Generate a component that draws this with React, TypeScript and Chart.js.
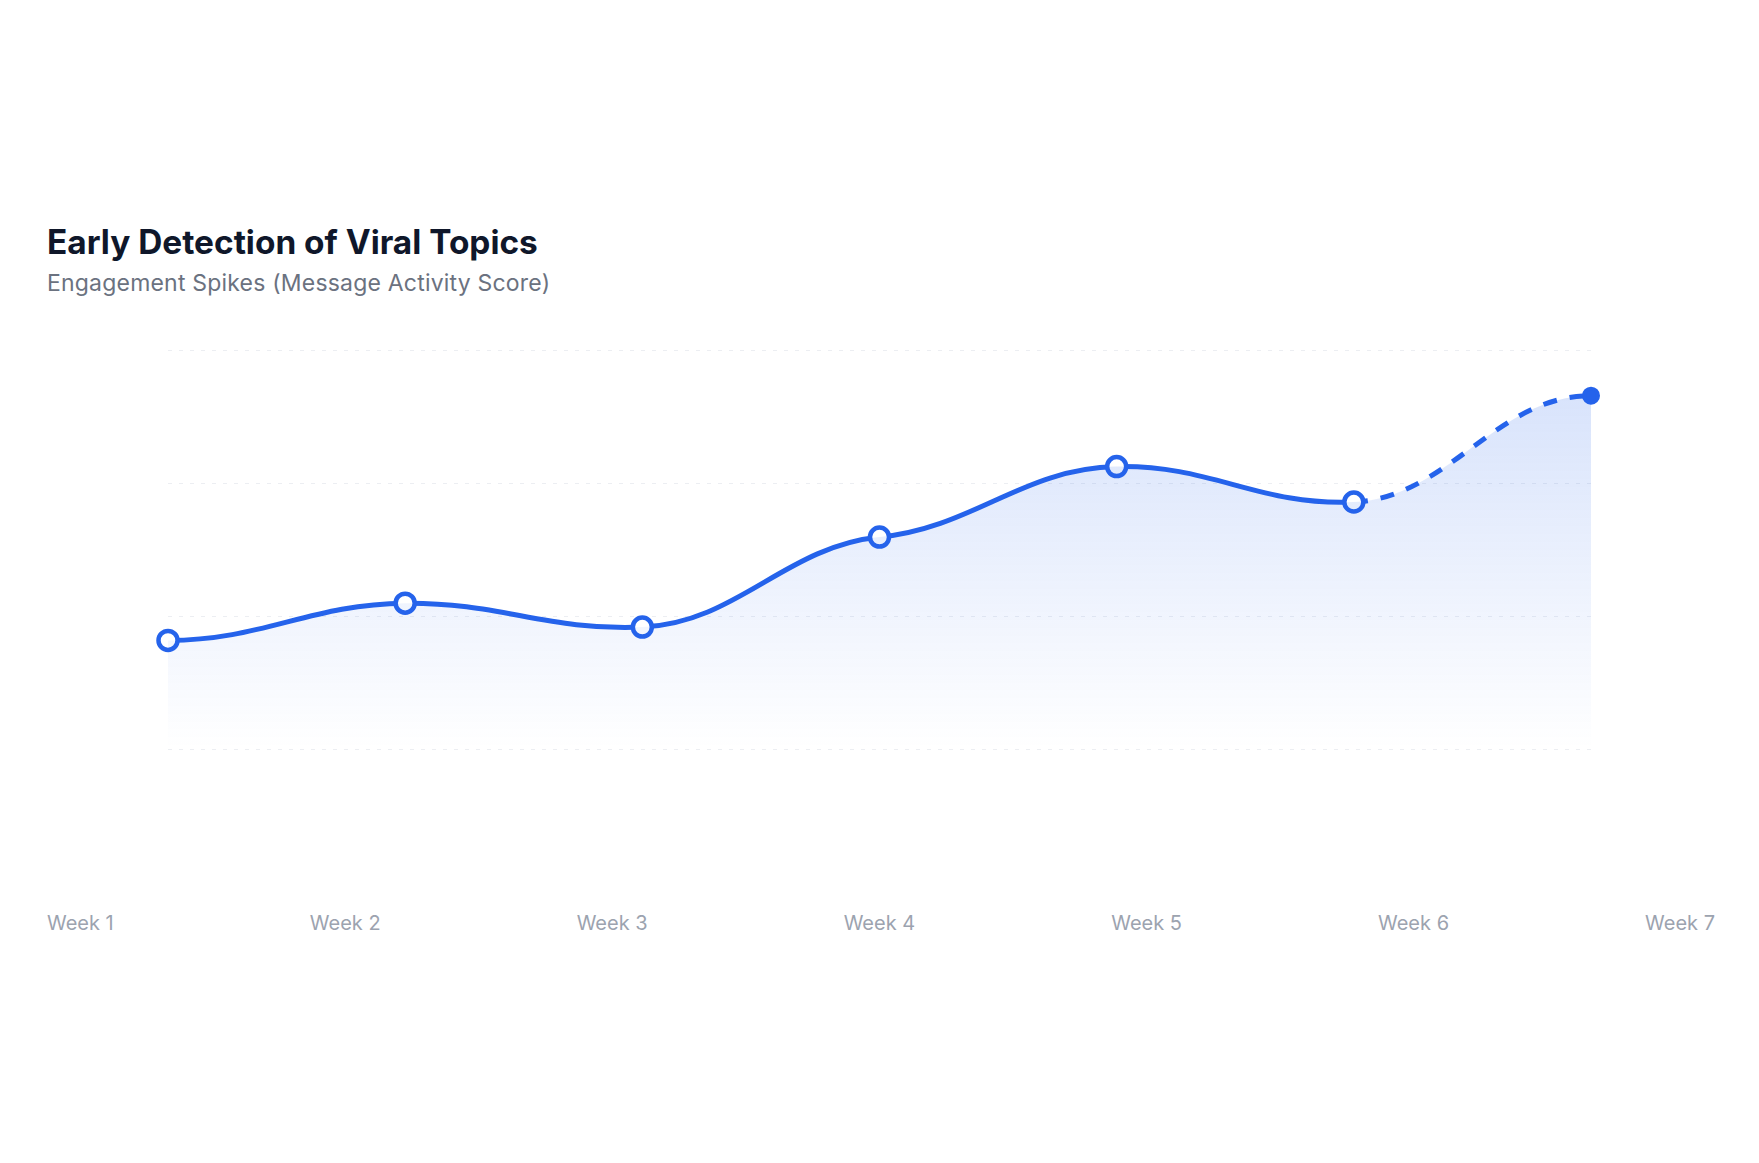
import React, { useEffect, useRef } from "react";
import { Chart, registerables } from "chart.js";

Chart.register(...registerables);

const TITLE = "Early Detection of Viral Topics";
const SUBTITLE = "Engagement Spikes (Message Activity Score)";
const weekLabels = ["Week 1", "Week 2", "Week 3", "Week 4", "Week 5", "Week 6", "Week 7"];
const activityScores = [24.5, 32.9, 27.5, 47.8, 63.7, 55.7, 79.7];
const yTicks = [0, 30, 60, 90];

const BLUE = "#2563eb";
const CP_REACH = 0.4; // control point reach as a share of the gap between points
const TANGENT_K = 0.3; // how much of the neighbour slope is kept at each point

// Smooth the curve with nearly horizontal tangents at every point
const smoothCurvePlugin = {
  id: "smoothCurve",
  beforeDatasetsDraw(chart: any) {
    chart.getSortedVisibleDatasetMetas().forEach((meta: any) => {
      const line = meta.dataset;
      if (!line) return;
      line.updateControlPoints(chart.chartArea, "x");
      const pts = meta.data;
      const n = pts.length;
      const slopes = pts.map((p: any, i: number) => {
        if (i === 0 || i === n - 1) return 0;
        const a = pts[i - 1];
        const b = pts[i + 1];
        return (TANGENT_K * (b.y - a.y)) / (b.x - a.x);
      });
      pts.forEach((p: any, i: number) => {
        if (i > 0) {
          const dx = p.x - pts[i - 1].x;
          p.cp1x = p.x - CP_REACH * dx;
          p.cp1y = p.y - slopes[i] * CP_REACH * dx;
        }
        if (i < n - 1) {
          const dx = pts[i + 1].x - p.x;
          p.cp2x = p.x + CP_REACH * dx;
          p.cp2y = p.y + slopes[i] * CP_REACH * dx;
        }
      });
      line._path = undefined;
    });
  },
};

export default function App() {
  const canvasRef = useRef<HTMLCanvasElement | null>(null);

  useEffect(() => {
    const canvas = canvasRef.current;
    if (!canvas) return;
    const lastIdx = activityScores.length - 1;
    const chart = new Chart(canvas, {
      type: "line",
      data: {
        labels: weekLabels,
        datasets: [
          {
            label: "Area",
            data: activityScores,
            borderColor: "rgba(0,0,0,0)",
            borderWidth: 0,
            tension: 0.4,
            fill: "start",
            pointRadius: 0,
            pointHoverRadius: 0,
            backgroundColor: (ctx: any) => {
              const { chart } = ctx;
              const area = chart.chartArea;
              if (!area) return "rgba(37,99,235,0.1)";
              const g = chart.ctx.createLinearGradient(0, area.top, 0, area.bottom);
              g.addColorStop(0, "rgba(37,99,235,0.2)");
              g.addColorStop(1, "rgba(37,99,235,0)");
              return g;
            },
          } as any,
          {
            label: "Message Activity Score",
            data: activityScores,
            borderColor: BLUE,
            borderWidth: 5,
            tension: 0.4,
            fill: false,
            clip: false as any,
            pointRadius: activityScores.map((_, i) => (i === lastIdx ? 7 : 9.5)),
            pointBorderWidth: activityScores.map((_, i) => (i === lastIdx ? 4 : 4.5)),
            pointBackgroundColor: activityScores.map((_, i) => (i === lastIdx ? BLUE : "#ffffff")),
            pointBorderColor: BLUE,
            pointHoverRadius: 9.5,
            segment: {
              borderDash: (ctx: any) => (ctx.p0DataIndex === lastIdx - 1 ? [14, 13] : undefined),
            },
          } as any,
        ],
      },
      options: {
        responsive: false,
        maintainAspectRatio: false,
        animation: false,
        layout: { padding: { left: 120, right: 124, top: 30, bottom: 31 } },
        plugins: {
          legend: { display: false },
          tooltip: { enabled: false },
        },
        scales: {
          x: { display: false },
          y: {
            min: yTicks[0],
            max: yTicks[yTicks.length - 1],
            afterBuildTicks: (axis: any) => {
              axis.ticks = yTicks.map((v) => ({ value: v }));
            },
            ticks: { display: false },
            border: { display: false, dash: [4, 7] },
            grid: {
              color: "#eceef2",
              lineWidth: 1,
              drawTicks: false,
            },
          } as any,
        },
      },
      plugins: [smoothCurvePlugin],
    });
    return () => chart.destroy();
  }, []);

  return (
    <div
      style={{
        position: "fixed",
        inset: 0,
        background: "#ffffff",
        overflow: "hidden",
        fontFamily: "Inter, 'Noto Sans', sans-serif",
      }}
    >
      <div
        style={{
          position: "absolute",
          left: 47,
          top: 224,
          fontSize: 33.4,
          fontWeight: 700,
          lineHeight: "36px",
          color: "#0f172a",
          whiteSpace: "nowrap",
        }}
      >
        {TITLE}
      </div>
      <div
        style={{
          position: "absolute",
          left: 47,
          top: 270,
          fontSize: 23,
          letterSpacing: "0.2px",
          fontWeight: 400,
          lineHeight: "26px",
          color: "#6b7280",
          whiteSpace: "nowrap",
        }}
      >
        {SUBTITLE}
      </div>
      <canvas
        ref={canvasRef}
        width={1667}
        height={460}
        style={{ position: "absolute", left: 48, top: 320, width: 1667, height: 460 }}
      />
      <div
        style={{
          position: "absolute",
          left: 47,
          width: 1668,
          top: 911,
          display: "flex",
          justifyContent: "space-between",
          fontSize: 20,
          lineHeight: "24px",
          color: "#9ca3af",
        }}
      >
        {weekLabels.map((w) => (
          <span key={w}>{w}</span>
        ))}
      </div>
    </div>
  );
}
